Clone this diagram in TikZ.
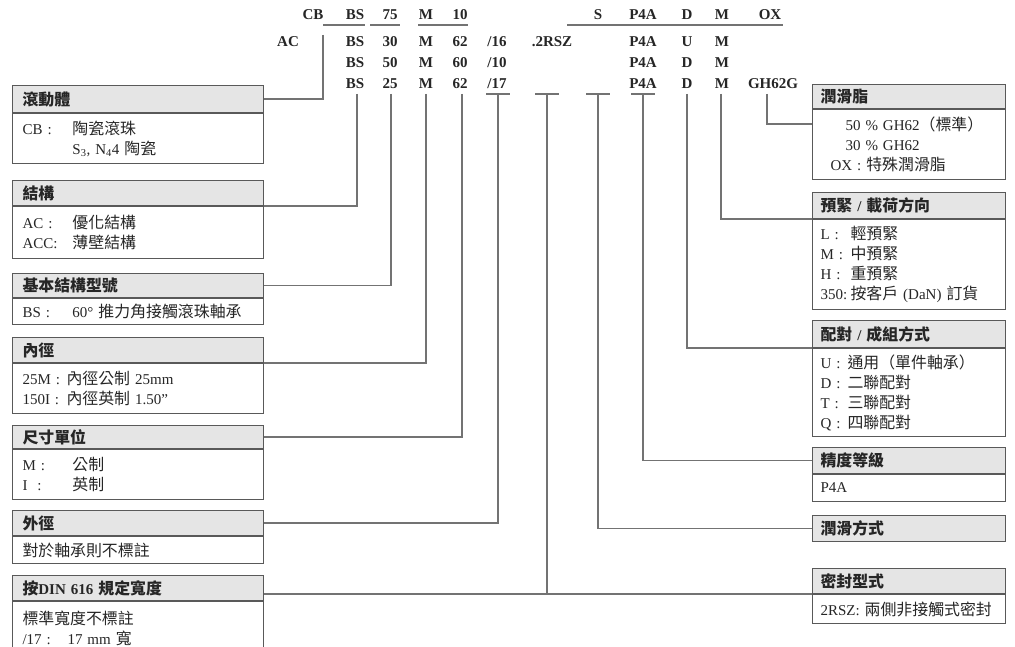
\documentclass[tikz,border=0pt]{standalone}
\usepackage{fontspec}
\setmainfont{Liberation Serif}
\newfontfamily\zhfont[Scale=1.06]{Noto Sans CJK TC}
\newcommand\zh[1]{{\zhfont #1}}
\newcommand\lab[2][50pt]{\makebox[#1][l]{#2}}
\tikzset{
  code/.style={anchor=base, font=\fontsize{15}{15}\selectfont\bfseries, inner sep=0pt, text=black!85},
  head/.style={draw=black!65, line width=1pt, fill=black!10, anchor=north west, inner ysep=0pt,
    align=left, font=\fontsize{15}{16}\selectfont\bfseries, text=black!85},
  body/.style={draw=black!65, line width=1pt, fill=white, anchor=north west, inner ysep=0pt,
    align=left, font=\fontsize{15}{20}\selectfont, text=black!85},
  lbox/.style={text width=231pt, inner xsep=10pt},
  rbox/.style={text width=177pt, inner xsep=8pt},
  link/.style={draw=black!55, line width=1.1pt}
}
\begin{document}
\begin{tikzpicture}[x=1pt,y=-1pt]
\fill[white] (0,0) rectangle (1015,647);
\useasboundingbox (0,0) rectangle (1015,647);

% Code rows
\foreach \t/\x [count=\i] in {CB/313, BS/355, 75/390, M/426, 10/460, S/598, P4A/643, D/687, M/722, OX/770}
  \node[code] (ra\i) at (\x,20) {\t};
\foreach \t/\x [count=\i] in {AC/288, BS/355, 30/390, M/426, 62/460, {/16}/497, .2RSZ/552, P4A/643, U/687, M/722}
  \node[code] (rb\i) at (\x,47) {\t};
\foreach \t/\x [count=\i] in {BS/355, 50/390, M/426, 60/460, {/10}/497, P4A/643, D/687, M/722}
  \node[code] (rc\i) at (\x,68) {\t};
\foreach \t/\x [count=\i] in {BS/355, 25/390, M/426, 62/460, {/17}/497, P4A/643, D/687, M/722, GH62G/773}
  \node[code] (rd\i) at (\x,89) {\t};

% Underlines of the first row
\draw[link] (323,25) -- (365,25);
\draw[link] (370,25) -- (400,25);
\draw[link] (418,25) -- (468,25);
\draw[link] (567,25) -- (783,25);

% Left boxes
\node[head, lbox, minimum height=27pt] (h1) at (12,85) {\zh{滾動體}};
\node[body, lbox, minimum height=50pt] (b1) at (h1.south west)
  {\lab{CB :}\zh{陶瓷滾珠}\\ \lab{}S\textsubscript{3}, N\textsubscript{4}4 \zh{陶瓷}};
\node[head, lbox, minimum height=25pt] (h2) at (12,180) {\zh{結構}};
\node[body, lbox, minimum height=52pt] (b2) at (h2.south west)
  {\lab{AC :}\zh{優化結構}\\ \lab{ACC:}\zh{薄壁結構}};
\node[head, lbox, minimum height=24pt] (h3) at (12,273) {\zh{基本結構型號}};
\node[body, lbox, minimum height=26pt] (b3) at (h3.south west)
  {\lab{BS :}60° \zh{推力角接觸滾珠軸承}};
\node[head, lbox, minimum height=25pt] (h4) at (12,337) {\zh{內徑}};
\node[body, lbox, minimum height=50pt] (b4) at (h4.south west)
  {\lab[44pt]{25M :}\zh{內徑公制} 25mm\\ \lab[44pt]{150I :}\zh{內徑英制} 1.50''};
\node[head, lbox, minimum height=23pt] (h5) at (12,425) {\zh{尺寸單位}};
\node[body, lbox, minimum height=50pt] (b5) at (h5.south west)
  {\lab{M :}\zh{公制}\\ \lab{I\ \ :}\zh{英制}};
\node[head, lbox, minimum height=25pt] (h6) at (12,510) {\zh{外徑}};
\node[body, lbox, minimum height=27pt] (b6) at (h6.south west) {\zh{對於軸承則不標註}};
\node[head, lbox, minimum height=25pt] (h7) at (12,575) {\zh{按}DIN 616 \zh{規定寬度}};
\node[body, lbox, minimum height=53pt] (b7) at (h7.south west)
  {\zh{標準寬度不標註}\\ \lab[45pt]{/17 :}17 mm \zh{寬}};

% Right boxes
\node[head, rbox, minimum height=24pt] (h8) at (812,84) {\zh{潤滑脂}};
\node[body, rbox, minimum height=70pt] (b8) at (h8.south west)
  {\hspace*{25pt}50 \% GH62\zh{（標準）}\\ \hspace*{25pt}30 \% GH62\\ \hspace*{10pt}OX : \zh{特殊潤滑脂}};
\node[head, rbox, minimum height=26pt] (h9) at (812,192) {\zh{預緊} / \zh{載荷方向}};
\node[body, rbox, minimum height=90pt] (b9) at (h9.south west)
  {\lab[30pt]{L :}\zh{輕預緊}\\ \lab[30pt]{M :}\zh{中預緊}\\ \lab[30pt]{H :}\zh{重預緊}\\ \lab[30pt]{350:}\zh{按客戶} (DaN) \zh{訂貨}};
\node[head, rbox, minimum height=27pt] (h10) at (812,320) {\zh{配對} / \zh{成組方式}};
\node[body, rbox, minimum height=88pt] (b10) at (h10.south west)
  {\lab[27pt]{U :}\zh{通用（單件軸承）}\\ \lab[27pt]{D :}\zh{二聯配對}\\ \lab[27pt]{T :}\zh{三聯配對}\\ \lab[27pt]{Q :}\zh{四聯配對}};
\node[head, rbox, minimum height=26pt] (h11) at (812,447) {\zh{精度等級}};
\node[body, rbox, minimum height=27pt] (b11) at (h11.south west) {P4A};
\node[head, rbox, minimum height=26pt] (h12) at (812,515) {\zh{潤滑方式}};
\node[head, rbox, minimum height=25pt] (h13) at (812,568) {\zh{密封型式}};
\node[body, rbox, minimum height=29pt] (b13) at (h13.south west) {2RSZ: \zh{兩側非接觸式密封}};

% Tick tops under the last row
\coordinate (tCB) at (323,35);
\coordinate (tBS) at (357,94);
\coordinate (tDia) at (391,94);
\coordinate (tM) at (426,94);
\coordinate (tUnit) at (462,94);
\coordinate (tOD) at (498,94);
\coordinate (tSeal) at (547,94);
\coordinate (tLube) at (598,94);
\coordinate (tP) at (643,94);
\coordinate (tPair) at (687,94);
\coordinate (tPre) at (721,94);
\coordinate (tGr) at (767,94);
\foreach \c in {tOD, tSeal, tLube, tP}
  \draw[link] ([xshift=-12pt]\c) -- ([xshift=12pt]\c);

% Connectors
\draw[link] (tCB) |- (h1.east);
\draw[link] (tBS) |- (h2.south east);
\draw[link] (tDia) |- (h3.east);
\draw[link] (tM) |- (h4.south east);
\draw[link] (tUnit) |- (h5.east);
\draw[link] (tOD) |- (h6.east);
\draw[link] (tSeal) -- (tSeal |- h13.south west);
\draw[link] (h7.east |- h13.south west) -- (h13.south west);
\draw[link] (tLube) |- (h12.west);
\draw[link] (tP) |- (h11.west);
\draw[link] (tPair) |- (h10.south west);
\draw[link] (tPre) |- (h9.south west);
\draw[link] (tGr) |- ([yshift=-15pt]h8.south west);
\end{tikzpicture}
\end{document}
